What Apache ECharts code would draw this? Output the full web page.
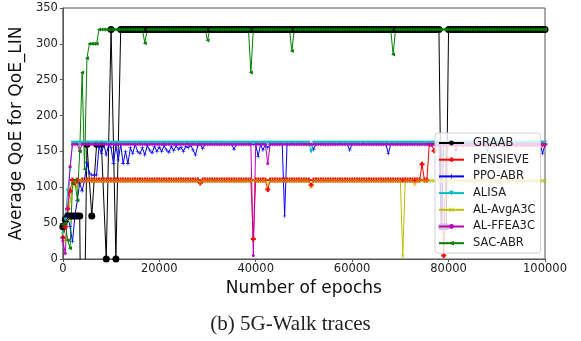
<!DOCTYPE html>
<html>
<head>
<meta charset="utf-8">
<script src="https://cdn.jsdelivr.net/npm/echarts@6/dist/echarts.min.js"></script>
<style>
  html, body { margin: 0; padding: 0; background: #fff; }
  #chart { width: 581px; height: 341px; }
</style>
</head>
<body>
<div id="chart"></div>
<script>
// x grid: one sample every 500 epochs, 0 .. 100000 (201 points)
const epochs = Array.from({ length: 201 }, (_, i) => i * 500);
const xTicks = [0, 20000, 40000, 60000, 80000, 100000];
const yTicks = [0, 50, 100, 150, 200, 250, 300, 350];

// each row = 10000 epochs (20 samples), null = no sample there
const graab = [
  45, 55, 60, 60, 60, 60, 60, 60, -300, null, 160, null, 60, null, 160, null, 160, null, 0, null,
  320, null, 0, null, 320, 320, 320, 320, 320, 320, 320, 320, 320, 320, 320, 320, 320, 320, 320, 320,
  320, 320, 320, 320, 320, 320, 320, 320, 320, 320, 320, 320, 320, 320, 320, 320, 320, 320, 320, 320,
  320, 320, 320, 320, 320, 320, 320, 320, 320, 320, 320, 320, 320, 320, 320, 320, 320, 320, 320, 320,
  320, 320, 320, 320, 320, 320, 320, 320, 320, 320, 320, 320, 320, 320, 320, 320, 320, 320, 320, 320,
  320, 320, 320, 320, 320, 320, 320, 320, 320, 320, 320, 320, 320, 320, 320, 320, 320, 320, 320, 320,
  320, 320, 320, 320, 320, 320, 320, 320, 320, 320, 320, 320, 320, 320, 320, 320, 320, 320, 320, 320,
  320, 320, 320, 320, 320, 320, 320, 320, 320, 320, 320, 320, 320, 320, 320, 320, 320, 45, null, 45,
  320, 320, 320, 320, 320, 320, 320, 320, 320, 320, 320, 320, 320, 320, 320, 320, 320, 320, 320, 320,
  320, 320, 320, 320, 320, 320, 320, 320, 320, 320, 320, 320, 320, 320, 320, 320, 320, 320, 320, 320,
  320
];
const pensieve = [
  30, 45, 70, 95, 110, 106, 110, 108, 110, 110, 110, 110, 110, 110, 110, 110, 110, 110, 110, 110,
  110, 110, 110, 110, 110, 110, 110, 110, 110, 110, 110, 110, 110, 110, 110, 110, 110, 110, 110, 110,
  110, 110, 110, 110, 110, 110, 110, 110, 110, 110, 110, 110, 110, 110, 110, 110, 110, 106, 110, 110,
  110, 110, 110, 110, 110, 110, 110, 110, 110, 110, 110, 110, 110, 110, 110, 110, 110, 110, 110, 28,
  110, 110, 110, 110, 110, 97, 110, 110, 110, 110, 110, 110, 110, 110, 110, 110, 110, 110, 110, 110,
  110, 110, 110, 103, 110, 110, 110, 110, 110, 110, 110, 110, 110, 110, 110, 110, 110, 110, 110, 110,
  110, 110, 110, 110, 110, 110, 110, 110, 110, 110, 110, 110, 110, 110, 110, 110, 110, 110, 110, 110,
  110, 110, 110, 110, 110, 110, 110, 110, 110, 132, 110, 110, 160, 160, 151, 160, 160, 160, 5, 160,
  160, 160, 160, 160, 160, 160, 160, 160, 160, 160, 160, 160, 160, 160, 160, 160, 160, 160, 160, 160,
  160, 160, 160, 160, 160, 160, 160, 160, 160, 160, 160, 160, 160, 160, 160, 160, 160, 160, 160, 160,
  160
];
const ppoAbr = [
  30, 50, 60, 45, 24, 60, 82, 106, 95, 110, 134, 120, 117, 117, 117, 157, 147, 160, 145, 160,
  155, 133, 158, 138, 160, 133, 150, 133, 155, 147, 160, 150, 147, 155, 145, 158, 152, 148, 157, 150,
  156, 150, 158, 152, 149, 157, 151, 158, 153, 156, 150, 157, 155, 159, 152, 145, 158, 160, 154, 160,
  160, 160, 160, 160, 160, 160, 160, 160, 160, 160, 160, 153, 160, 160, 160, 160, 160, 160, 160, 160,
  160, 143, 160, 152, 160, 155, 160, 160, 160, 160, 160, 160, 60, 160, 160, 160, 160, 160, 160, 160,
  160, 160, 160, 160, 153, 160, 160, 160, 160, 160, 160, 160, 160, 160, 160, 160, 160, 160, 160, 152,
  160, 160, 160, 160, 160, 160, 160, 160, 160, 160, 160, 160, 160, 160, 160, 147, 160, 160, 160, 160,
  160, 160, 160, 160, 160, 160, 160, 160, 160, 160, 160, 160, 160, 160, 160, 160, 160, 48, 160, 160,
  160, 160, 160, 160, 160, 160, 160, 160, 160, 160, 160, 160, 160, 160, 160, 160, 160, 160, 160, 160,
  160, 160, 160, 160, 160, 160, 160, 160, 160, 160, 160, 160, 160, 160, 160, 160, 160, 160, 160, 147,
  160
];
const alisa = [
  35, 55, 95, 126, 162, 162, 162, 162, 162, 162, 162, 162, 162, 162, 162, 162, 162, 162, 162, 162,
  162, 162, 162, 162, 162, 162, 162, 162, 162, 162, 162, 162, 162, 162, 162, 162, 162, 162, 162, 162,
  162, 162, 162, 162, 162, 162, 162, 162, 162, 162, 162, 162, 162, 162, 162, 162, 162, 162, 162, 162,
  162, 162, 162, 162, 162, 162, 162, 162, 162, 162, 162, 162, 162, 162, 162, 162, 162, 162, 162, 162,
  162, 162, 162, 162, 162, 162, 162, 162, 162, 162, 162, 162, 162, 162, 162, 162, 162, 162, 162, 162,
  162, 162, 162, 150, 162, 162, 162, 162, 162, 162, 162, 162, 162, 162, 162, 162, 162, 162, 162, 162,
  162, 162, 162, 162, 162, 162, 162, 162, 162, 162, 162, 162, 162, 162, 162, 162, 162, 162, 162, 162,
  162, 162, 162, 162, 162, 162, 162, 162, 162, 162, 162, 162, 162, 162, 162, 162, 162, 162, 162, 162,
  162, 162, 162, 162, 162, 162, 162, 162, 162, 162, 162, 162, 162, 162, 162, 162, 150, 162, 162, 162,
  162, 162, 162, 162, 162, 162, 162, 162, 162, 162, 162, 162, 162, 162, 162, 162, 162, 162, 162, 162,
  162
];
const alAvgA3c = [
  35, 25, 55, 80, 103, 107, 100, 109, 109, 109, 109, 109, 109, 109, 109, 109, 109, 109, 109, 109,
  109, 109, 109, 109, 109, 109, 109, 109, 109, 109, 109, 109, 109, 109, 109, 109, 109, 109, 109, 109,
  109, 109, 109, 109, 109, 109, 109, 109, 109, 109, 109, 109, 109, 109, 109, 109, 109, 107, 109, 109,
  109, 109, 109, 109, 109, 109, 109, 109, 109, 109, 109, 109, 109, 109, 109, 109, 109, 109, 109, 109,
  109, 109, 109, 109, 109, 103, 109, 109, 109, 109, 109, 109, 109, 109, 109, 109, 109, 109, 109, 109,
  109, 109, 109, 100, 109, 109, 109, 109, 109, 109, 109, 109, 109, 109, 109, 109, 109, 109, 109, 109,
  109, 109, 109, 109, 109, 109, 109, 109, 109, 109, 109, 109, 109, 109, 109, 109, 109, 109, 109, 109,
  109, 4, 109, 109, 109, 109, 104, 109, 109, 109, 109, 109, 109, 109, 109, 109, 109, 109, 109, 109,
  109, 109, 109, 109, 109, 109, 109, 109, 109, 109, 109, 109, 109, 109, 109, 109, 109, 109, 109, 109,
  109, 109, 109, 109, 109, 109, 109, 109, 109, 109, 109, 109, 109, 109, 109, 109, 109, 109, 109, 109,
  109
];
const alFfeA3c = [
  25, 8, 70, 129, 160, 160, 160, 151, 160, 160, 160, 160, 160, 160, 160, 160, 160, 160, 160, 160,
  160, 160, 160, 160, 160, 160, 160, 160, 160, 160, 160, 160, 160, 160, 160, 160, 160, 160, 160, 160,
  160, 160, 160, 160, 160, 160, 160, 160, 160, 160, 160, 160, 160, 160, 160, 160, 160, 160, 160, 160,
  160, 160, 160, 160, 160, 160, 160, 160, 160, 160, 160, 160, 160, 160, 160, 160, 160, 160, 160, 5,
  160, 160, 160, 160, 160, 133, 160, 160, 160, 160, 160, 160, 160, 160, 160, 160, 160, 160, 160, 160,
  160, 160, 160, 160, 160, 160, 160, 160, 160, 160, 160, 160, 160, 160, 160, 160, 160, 160, 160, 160,
  160, 160, 160, 160, 160, 160, 160, 160, 160, 160, 160, 160, 160, 160, 160, 160, 160, 160, 160, 160,
  160, 160, 160, 160, 160, 160, 160, 160, 160, 160, 160, 160, 160, 160, 160, 160, 160, 160, 160, 160,
  160, 160, 160, 152, 160, 160, 160, 160, 160, 160, 160, 160, 160, 160, 160, 160, 160, 160, 160, 160,
  160, 160, 160, 160, 160, 160, 160, 160, 160, 160, 160, 160, 160, 160, 160, 160, 160, 160, 160, 160,
  160
];
const sacAbr = [
  48, 50, 26, 15, 105, 110, 82, 150, 260, 125, 280, 300, 300, 300, 300, 320, 320, 320, 320, 320,
  320, 320, 320, 320, 320, 320, 320, 320, 320, 320, 320, 320, 320, 320, 301, 320, 320, 320, 320, 320,
  320, 320, 320, 320, 320, 320, 320, 320, 320, 320, 320, 320, 320, 320, 320, 320, 320, 320, 320, 320,
  305, 320, 320, 320, 320, 320, 320, 320, 320, 320, 320, 320, 320, 320, 320, 320, 320, 320, 260, 320,
  320, 320, 320, 320, 320, 320, 320, 320, 320, 320, 320, 320, 320, 320, 320, 290, 320, 320, 320, 320,
  320, 320, 320, 320, 320, 320, 320, 320, 320, 320, 320, 320, 320, 320, 320, 320, 320, 320, 320, 320,
  320, 320, 320, 320, 320, 320, 320, 320, 320, 320, 320, 320, 320, 320, 320, 320, 320, 285, 320, 320,
  320, 320, 320, 320, 320, 320, 320, 320, 320, 320, 320, 320, 320, 320, 320, 320, 320, 320, 320, 320,
  320, 320, 320, 320, 320, 320, 320, 320, 320, 320, 320, 320, 320, 320, 320, 320, 320, 320, 320, 320,
  320, 320, 320, 320, 320, 320, 320, 320, 320, 320, 320, 320, 320, 320, 320, 320, 320, 320, 320, 320,
  320
];

const PLUS_THICK = 'path://M3,0 H7 V3 H10 V7 H7 V10 H3 V7 H0 V3 H3 Z';
const PLUS_THIN = 'path://M4.3,0 H5.7 V4.3 H10 V5.7 H5.7 V10 H4.3 V5.7 H0 V4.3 H4.3 Z';
const CROSS = 'path://M0,1 L1,0 L10,9 L9,10 Z M9,0 L10,1 L1,10 L0,9 Z';

const seriesDefs = [
  { name: 'GRAAB', values: graab, color: '#000000', symbol: 'circle', size: 7, rotate: 0 },
  { name: 'PENSIEVE', values: pensieve, color: '#ff0000', symbol: PLUS_THICK, size: 5, rotate: 0 },
  { name: 'PPO-ABR', values: ppoAbr, color: '#0000ff', symbol: PLUS_THIN, size: 4, rotate: 0 },
  { name: 'ALISA', values: alisa, color: '#00bfbf', symbol: 'triangle', size: 4, rotate: 180 },
  { name: 'AL-AvgA3C', values: alAvgA3c, color: '#bfbf00', symbol: CROSS, size: 4, rotate: 0 },
  { name: 'AL-FFEA3C', values: alFfeA3c, color: '#bf00bf', symbol: 'circle', size: 3, rotate: 0 },
  { name: 'SAC-ABR', values: sacAbr, color: '#008000', symbol: 'triangle', size: 4, rotate: 90 }
];

const chart = echarts.init(document.getElementById('chart'), null, { renderer: 'canvas' });

chart.setOption({
  animation: false,
  textStyle: { fontFamily: 'DejaVu Sans' },
  grid: {
    left: 62, right: 36, top: 8, bottom: 82,
    show: true, borderColor: '#555', borderWidth: 1, backgroundColor: 'transparent'
  },
  legend: {
    orient: 'vertical',
    left: 435, top: 133,
    itemWidth: 25, itemHeight: 6, itemGap: 4.7,
    padding: [4, 5, 4, 3],
    backgroundColor: 'rgba(255,255,255,0.8)',
    borderColor: '#d0d0d0', borderWidth: 1, borderRadius: 3,
    textStyle: { fontSize: 11.5, color: '#222', fontFamily: 'DejaVu Sans', padding: [0, 0, 0, 4] },
    data: seriesDefs.map(d => d.name)
  },
  xAxis: {
    type: 'value',
    min: xTicks[0], max: xTicks[xTicks.length - 1], interval: 20000,
    name: 'Number of epochs', nameLocation: 'middle', nameGap: 16,
    nameTextStyle: { fontSize: 17, color: '#111', fontFamily: 'DejaVu Sans' },
    axisLine: { lineStyle: { color: '#555' } },
    axisTick: { show: true, length: 3, lineStyle: { color: '#555' } },
    axisLabel: { fontSize: 11.5, color: '#222', margin: 4, formatter: v => String(v) },
    splitLine: { show: false }
  },
  yAxis: {
    type: 'value',
    min: yTicks[0], max: yTicks[yTicks.length - 1], interval: 50,
    name: 'Average QoE for QoE_LIN', nameLocation: 'middle', nameGap: 29,
    nameTextStyle: { fontSize: 17, color: '#111', fontFamily: 'DejaVu Sans' },
    axisLine: { show: true, lineStyle: { color: '#555' } },
    axisTick: { show: true, length: 3, lineStyle: { color: '#555' } },
    axisLabel: { fontSize: 11.5, color: '#222', margin: 5 },
    splitLine: { show: false }
  },
  graphic: [{
    type: 'text',
    left: 'center',
    top: 314,
    style: { text: '(b) 5G-Walk traces', font: '21px "Liberation Serif"', fill: '#222' }
  }],
  series: seriesDefs.map(d => ({
    name: d.name,
    type: 'line',
    data: epochs.map((e, i) => [e, d.values[i]]).filter(p => p[1] !== null),
    color: d.color,
    symbol: d.symbol,
    symbolSize: d.size,
    symbolRotate: d.rotate,
    showAllSymbol: true,
    clip: true,
    lineStyle: { width: 1, color: d.color },
    itemStyle: { color: d.color },
    emphasis: { disabled: true }
  }))
});
</script>
</body>
</html>
